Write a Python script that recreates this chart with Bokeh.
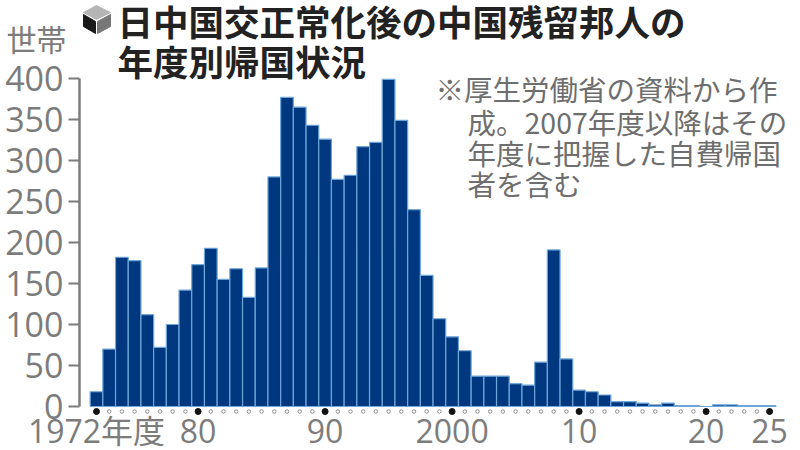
from bokeh.plotting import figure
from bokeh.models import FixedTicker, Range1d, ColumnDataSource
from bokeh.core.properties import value
from bokeh.embed import file_html
from bokeh.resources import INLINE

years = list(range(1972, 2026))
households = [18, 70, 182, 178, 112, 72, 100, 142, 173, 193, 155, 168, 133, 169, 280,
              377, 365, 343, 326, 277, 282, 317, 322, 399, 349, 240, 160, 107, 85, 68,
              37, 37, 37, 28, 26, 54, 191, 58, 20, 18, 14, 6, 6, 4, 2, 4, 1, 1, 0, 2, 2, 1, 1, 1]
y_ticks = [0, 50, 100, 150, 200, 250, 300, 350, 400]
labelled_years = [1972, 1980, 1990, 2000, 2010, 2020, 2025]
x_labels = ["1972年度", "80", "90", "2000", "10", "20", "25"]
title_lines = ["日中国交正常化後の中国残留邦人の", "年度別帰国状況"]
note_lines = ["※厚生労働省の資料から作", "成。2007年度以降はその", "年度に把握した自費帰国", "者を含む"]
unit_label = "世帯"

# page-pixel calibration of the plot
PX_YEAR = 12.7
PX_UNIT = 0.82
def dx(px):
    return 1972 + (px - 96) / PX_YEAR
def dy(py):
    return (406 - py) / PX_UNIT

FONT = "Open Sans, Noto Sans CJK JP"
CJK = "Noto Sans CJK JP"
GRAY = "#7c7c7c"

p = figure(width=800, height=450, output_backend="svg", toolbar_location=None,
           x_range=Range1d(dx(0), dx(800)), y_range=Range1d(dy(450), dy(0)),
           min_border=0, min_border_left=0, min_border_right=0,
           min_border_top=0, min_border_bottom=0)
p.outline_line_color = None
p.xgrid.visible = False
p.ygrid.visible = False
p.background_fill_color = "white"
p.border_fill_color = "white"

src = ColumnDataSource(dict(x=years, top=households))
p.vbar(x="x", top="top", bottom=0, width=1.0, source=src,
       fill_color="#00387f", line_color="#6fa6da", line_width=1.2)

# year dots
plain = [y for y in years if y not in labelled_years]
p.scatter(plain, [dy(411)] * len(plain), size=3.5, marker="circle",
          fill_color="white", line_color="#777777", line_width=0.8)
p.scatter(labelled_years, [dy(411)] * len(labelled_years), size=6, marker="circle",
          fill_color="#111111", line_color="#111111")

ya = p.yaxis[0]
ya.fixed_location = dx(79)
ya.bounds = (0, 400)
ya.ticker = FixedTicker(ticks=y_ticks)
ya.axis_line_color = GRAY
ya.axis_line_width = 2.5
ya.major_tick_line_color = GRAY
ya.major_tick_line_width = 2
ya.major_tick_in = 0
ya.major_tick_out = 11
ya.minor_tick_line_color = None
ya.major_label_standoff = 5
ya.major_label_text_font = FONT
ya.major_label_text_font_size = "34px"
ya.major_label_text_color = GRAY

xa = p.xaxis[0]
xa.fixed_location = dy(402)
xa.ticker = FixedTicker(ticks=labelled_years)
xa.major_label_overrides = dict(zip(labelled_years, x_labels))
xa.axis_line_color = None
xa.major_tick_line_color = None
xa.minor_tick_line_color = None
xa.major_label_standoff = 0
xa.major_label_text_font = FONT
xa.major_label_text_font_size = "32px"
xa.major_label_text_color = GRAY

# cube icon
p.patch([dx(v) for v in (83, 96, 110, 96)], [dy(v) for v in (12, 5, 12, 19)], color="#b5b5b5")
p.patch([dx(v) for v in (83, 95, 95, 83)], [dy(v) for v in (14, 21, 33, 26)], color="#1a1a1a")
p.patch([dx(v) for v in (97, 110, 110, 97)], [dy(v) for v in (21, 14, 26, 33)], color="#777777")

# texts
p.text([dx(117)] * 2, [dy(20), dy(60)], text=title_lines, text_font=value(CJK),
       text_font_size="35.5px", text_font_style="bold", text_color="#222222",
       text_baseline="middle", text_align="left")
p.text([dx(435), dx(467), dx(467), dx(467)], [dy(v) for v in (88, 121, 152, 183)], text=note_lines,
       text_font=value(CJK), text_font_size="28.5px", text_color="#6e6e6e",
       text_baseline="middle", text_align="left")
p.text([dx(6)], [dy(37)], text=[unit_label], text_font=value(CJK), text_font_size="30px",
       text_color=GRAY, text_baseline="middle", text_align="left")

open("out.html", "w").write(file_html(p, INLINE))
